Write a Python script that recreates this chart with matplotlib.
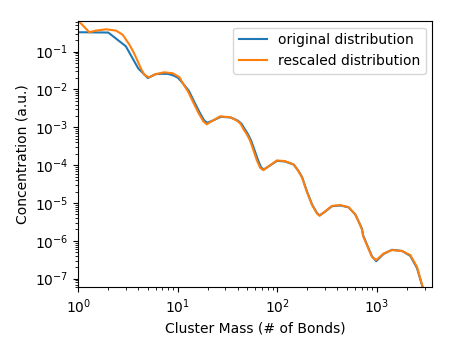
import numpy as np
import matplotlib
matplotlib.use('Agg')
import matplotlib.pyplot as plt

# values
orig_mass = [1, 2, 3, 4, 5, 6, 7, 8, 9, 10, 11, 12.9, 14.6, 16.5, 18.4, 19.8, 22.3, 27,
             34, 40, 43.5, 46.7, 50.5, 54.3, 58.5, 63.5, 68.5, 73, 85, 99, 119, 146, 161,
             177, 198, 223, 250, 265, 301, 352, 427, 517, 604, 662, 705, 725, 791, 889,
             981, 1162, 1412, 1780, 2158, 2519, 3000]
orig_conc = [0.326, 0.32, 0.139, 0.036, 0.0201, 0.0255, 0.026, 0.0258, 0.0235, 0.0205,
             0.0155, 0.0092, 0.0047, 0.0025, 0.00150, 0.00132, 0.00150, 0.0019, 0.00182,
             0.0015, 0.00125, 0.00092, 0.00066, 0.00045, 0.00026, 0.00014, 8.7e-5, 7.7e-5,
             1.0e-4, 1.3e-4, 1.25e-4, 1.03e-4, 7.3e-5, 4.8e-5, 2.0e-5, 9.0e-6, 5.4e-6,
             4.7e-6, 5.9e-6, 8.2e-6, 8.6e-6, 7.7e-6, 5.0e-6, 3.0e-6, 2.1e-6, 1.4e-6, 8.0e-7,
             3.9e-7, 2.9e-7, 4.5e-7, 5.8e-7, 5.4e-7, 4.0e-7, 1.9e-7, 4e-8]

resc_mass = [1, 1.29, 1.5, 1.9, 2.39, 2.79, 3.26, 3.6, 3.95, 4.25, 4.6, 5.1, 6.04, 7.3,
             8.9, 10.4, 11.2, 12.6, 14.3, 16.1, 18.0, 19.5, 21.9, 26.5, 33.5, 39.1, 42.5,
             45.5, 49.3, 53, 57, 62, 67, 72, 84.5, 98.6, 119, 145, 160, 176, 197, 222, 249,
             264, 301, 352, 427, 517, 604, 662, 705, 725, 791, 889, 981, 1162, 1412, 1780,
             2158, 2519, 3000]
resc_conc = [0.66, 0.326, 0.36, 0.39, 0.36, 0.28, 0.153, 0.095, 0.0557, 0.036, 0.0247,
             0.021, 0.0257, 0.0285, 0.0268, 0.021, 0.0146, 0.0090, 0.0045, 0.0024, 0.00145,
             0.0012, 0.00145, 0.00195, 0.00185, 0.0015, 0.00125, 0.00090, 0.00065, 0.00045,
             0.00026, 0.000135, 8.5e-5, 7.4e-5, 1.0e-4, 1.33e-4, 1.28e-4, 1.05e-4, 7.4e-5,
             4.8e-5, 2.0e-5, 9.0e-6, 5.3e-6, 4.6e-6, 6.0e-6, 8.4e-6, 8.8e-6, 7.8e-6, 5.0e-6,
             3.0e-6, 2.0e-6, 1.33e-6, 7.7e-7, 3.8e-7, 3.1e-7, 4.6e-7, 5.7e-7, 5.4e-7,
             4.2e-7, 2.05e-7, 4e-8]

fig, ax = plt.subplots(figsize=(4.5, 3.5), dpi=100)
fig.subplots_adjust(left=0.174, right=0.961, top=0.941, bottom=0.179)

ax.loglog(orig_mass, orig_conc, label='original distribution')
ax.loglog(resc_mass, resc_conc, label='rescaled distribution')

ax.set_xlim(1, 3600)
ax.set_ylim(5.9e-8, 0.66)
ax.set_xlabel('Cluster Mass (# of Bonds)')
ax.set_ylabel('Concentration (a.u.)')
ax.legend(loc='upper right')

fig.savefig('out.png')
